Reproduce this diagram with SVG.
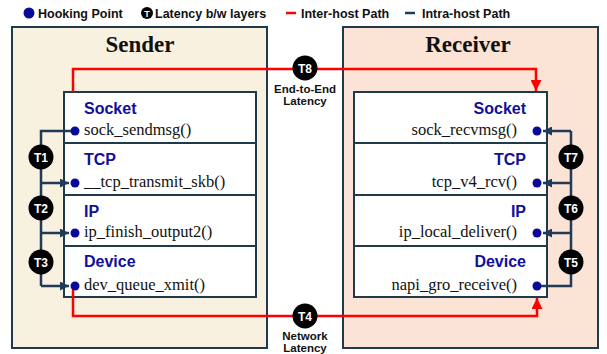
<svg xmlns="http://www.w3.org/2000/svg" width="607" height="354" viewBox="0 0 607 354">
  <defs>
    <style>
      .host { stroke: #1F3A4D; stroke-width: 2; }
      .stack { fill: #FFFFFF; stroke: #1F3A4D; stroke-width: 2; }
      .title { font-family: "Liberation Serif", serif; font-weight: bold; font-size: 23px; fill: #111111; text-anchor: middle; }
      .layer { font-family: "Liberation Sans", sans-serif; font-weight: bold; font-size: 16px; fill: #10109A; }
      .fn { font-family: "Liberation Serif", serif; font-size: 16.5px; fill: #111111; }
      .hook { fill: #0A0A99; }
      .intra { fill: none; stroke: #1F3B57; stroke-width: 2.5; }
      .inter { fill: none; stroke: #FF0000; stroke-width: 2.5; }
      .badge { fill: #000000; }
      .badge-text { font-family: "Liberation Sans", sans-serif; font-weight: bold; font-size: 12px; fill: #FFFFFF; text-anchor: middle; }
      .caption { font-family: "Liberation Sans", sans-serif; font-weight: bold; font-size: 11.5px; fill: #111111; text-anchor: middle; }
      .legend { font-family: "Liberation Sans", sans-serif; font-weight: bold; font-size: 12.5px; fill: #111111; }
    </style>
    <marker id="arrow-navy" viewBox="0 0 10 10" refX="10" refY="5" markerWidth="9" markerHeight="9" markerUnits="userSpaceOnUse" orient="auto">
      <path d="M0,0 L10,5 L0,10 Z" fill="#1F3B57"/>
    </marker>
    <marker id="arrow-red" viewBox="0 0 10 10" refX="10" refY="5" markerWidth="11" markerHeight="11" markerUnits="userSpaceOnUse" orient="auto">
      <path d="M0,0 L10,5 L0,10 Z" fill="#FF0000"/>
    </marker>
  </defs>

  <rect width="607" height="354" fill="#FFFFFF"/>

  <!-- legend -->
  <g id="legend">
    <circle cx="29" cy="13" r="5.5" class="hook"/>
    <text x="38" y="17.5" class="legend">Hooking Point</text>
    <circle cx="147" cy="13" r="6" class="badge"/>
    <text x="147" y="16.5" font-family="Liberation Sans, sans-serif" font-weight="bold" font-size="9" fill="#FFFFFF" text-anchor="middle">T</text>
    <text x="155" y="17.5" class="legend">Latency b/w layers</text>
    <line x1="286" y1="13" x2="296" y2="13" stroke="#FF0000" stroke-width="2.5"/>
    <text x="301" y="17.5" class="legend">Inter-host Path</text>
    <line x1="405" y1="13" x2="415" y2="13" stroke="#1F3B57" stroke-width="2.5"/>
    <text x="422" y="17.5" class="legend">Intra-host Path</text>
  </g>

  <!-- sender host -->
  <g id="sender">
    <rect x="12" y="27" width="255" height="321" fill="#F8F1E0" class="host"/>
    <text x="140" y="52" class="title">Sender</text>
  </g>

  <!-- receiver host -->
  <g id="receiver">
    <rect x="343" y="27" width="255" height="321" fill="#FBE3D6" class="host"/>
    <text x="468" y="52" class="title">Receiver</text>
  </g>

  <!-- sender stack layers -->
  <g id="sender-socket">
    <rect x="64" y="92" width="192" height="51" class="stack"/>
    <text x="84" y="114" class="layer">Socket</text>
    <text x="84" y="135" class="fn">sock_sendmsg()</text>
    <circle cx="75" cy="131" r="4.5" class="hook"/>
  </g>
  <g id="sender-tcp">
    <rect x="64" y="143" width="192" height="52" class="stack"/>
    <text x="84" y="165" class="layer">TCP</text>
    <text x="84" y="187" class="fn">__tcp_transmit_skb()</text>
    <circle cx="75" cy="183" r="4.5" class="hook"/>
  </g>
  <g id="sender-ip">
    <rect x="64" y="195" width="192" height="51" class="stack"/>
    <text x="84" y="217" class="layer">IP</text>
    <text x="84" y="237" class="fn">ip_finish_output2()</text>
    <circle cx="75" cy="233" r="4.5" class="hook"/>
  </g>
  <g id="sender-device">
    <rect x="64" y="246" width="192" height="51" class="stack"/>
    <text x="84" y="267" class="layer">Device</text>
    <text x="84" y="290" class="fn">dev_queue_xmit()</text>
    <circle cx="75" cy="286" r="4.5" class="hook"/>
  </g>

  <!-- receiver stack layers -->
  <g id="receiver-socket">
    <rect x="354" y="92" width="193" height="51" class="stack"/>
    <text x="526" y="114" class="layer" text-anchor="end">Socket</text>
    <text x="517" y="135" class="fn" text-anchor="end">sock_recvmsg()</text>
    <circle cx="537" cy="131" r="4.5" class="hook"/>
  </g>
  <g id="receiver-tcp">
    <rect x="354" y="143" width="193" height="52" class="stack"/>
    <text x="526" y="165" class="layer" text-anchor="end">TCP</text>
    <text x="517" y="187" class="fn" text-anchor="end">tcp_v4_rcv()</text>
    <circle cx="537" cy="183" r="4.5" class="hook"/>
  </g>
  <g id="receiver-ip">
    <rect x="354" y="195" width="193" height="51" class="stack"/>
    <text x="526" y="217" class="layer" text-anchor="end">IP</text>
    <text x="517" y="237" class="fn" text-anchor="end">ip_local_deliver()</text>
    <circle cx="537" cy="233" r="4.5" class="hook"/>
  </g>
  <g id="receiver-device">
    <rect x="354" y="246" width="193" height="51" class="stack"/>
    <text x="526" y="267" class="layer" text-anchor="end">Device</text>
    <text x="517" y="290" class="fn" text-anchor="end">napi_gro_receive()</text>
    <circle cx="537" cy="286" r="4.5" class="hook"/>
  </g>

  <!-- connectors -->
  <g id="connectors">
    <!-- sender intra-host path -->
    <path class="intra" d="M71,131 H41 V286"/>
    <path class="intra" d="M41,183 H69" marker-end="url(#arrow-navy)"/>
    <path class="intra" d="M41,233 H69" marker-end="url(#arrow-navy)"/>
    <path class="intra" d="M41,286 H69" marker-end="url(#arrow-navy)"/>
    <!-- receiver intra-host path -->
    <path class="intra" d="M541,286 H571 V131"/>
    <path class="intra" d="M571,131 H543" marker-end="url(#arrow-navy)"/>
    <path class="intra" d="M571,183 H543" marker-end="url(#arrow-navy)"/>
    <path class="intra" d="M571,233 H543" marker-end="url(#arrow-navy)"/>
    <!-- inter-host paths -->
    <path class="inter" d="M73,92 V69 H536 V91" marker-end="url(#arrow-red)"/>
    <path class="inter" d="M73,290 V316 H537 V298" marker-end="url(#arrow-red)"/>
  </g>

  <!-- latency badges -->
  <g id="t1"><circle cx="41" cy="157" r="12.5" class="badge"/><text x="41" y="161.5" class="badge-text">T1</text></g>
  <g id="t2"><circle cx="41" cy="208" r="12.5" class="badge"/><text x="41" y="212.5" class="badge-text">T2</text></g>
  <g id="t3"><circle cx="41" cy="262" r="12.5" class="badge"/><text x="41" y="266.5" class="badge-text">T3</text></g>
  <g id="t5"><circle cx="571" cy="262" r="12.5" class="badge"/><text x="571" y="266.5" class="badge-text">T5</text></g>
  <g id="t6"><circle cx="571" cy="208" r="12.5" class="badge"/><text x="571" y="212.5" class="badge-text">T6</text></g>
  <g id="t7"><circle cx="571" cy="157" r="12.5" class="badge"/><text x="571" y="161.5" class="badge-text">T7</text></g>
  <g id="t8">
    <circle cx="305" cy="68" r="12.5" class="badge"/><text x="305" y="72.5" class="badge-text">T8</text>
    <text x="305" y="93" class="caption">End-to-End</text>
    <text x="305" y="105" class="caption">Latency</text>
  </g>
  <g id="t4">
    <circle cx="305" cy="316" r="12.5" class="badge"/><text x="305" y="320.5" class="badge-text">T4</text>
    <text x="305" y="340" class="caption">Network</text>
    <text x="305" y="352" class="caption">Latency</text>
  </g>
</svg>
